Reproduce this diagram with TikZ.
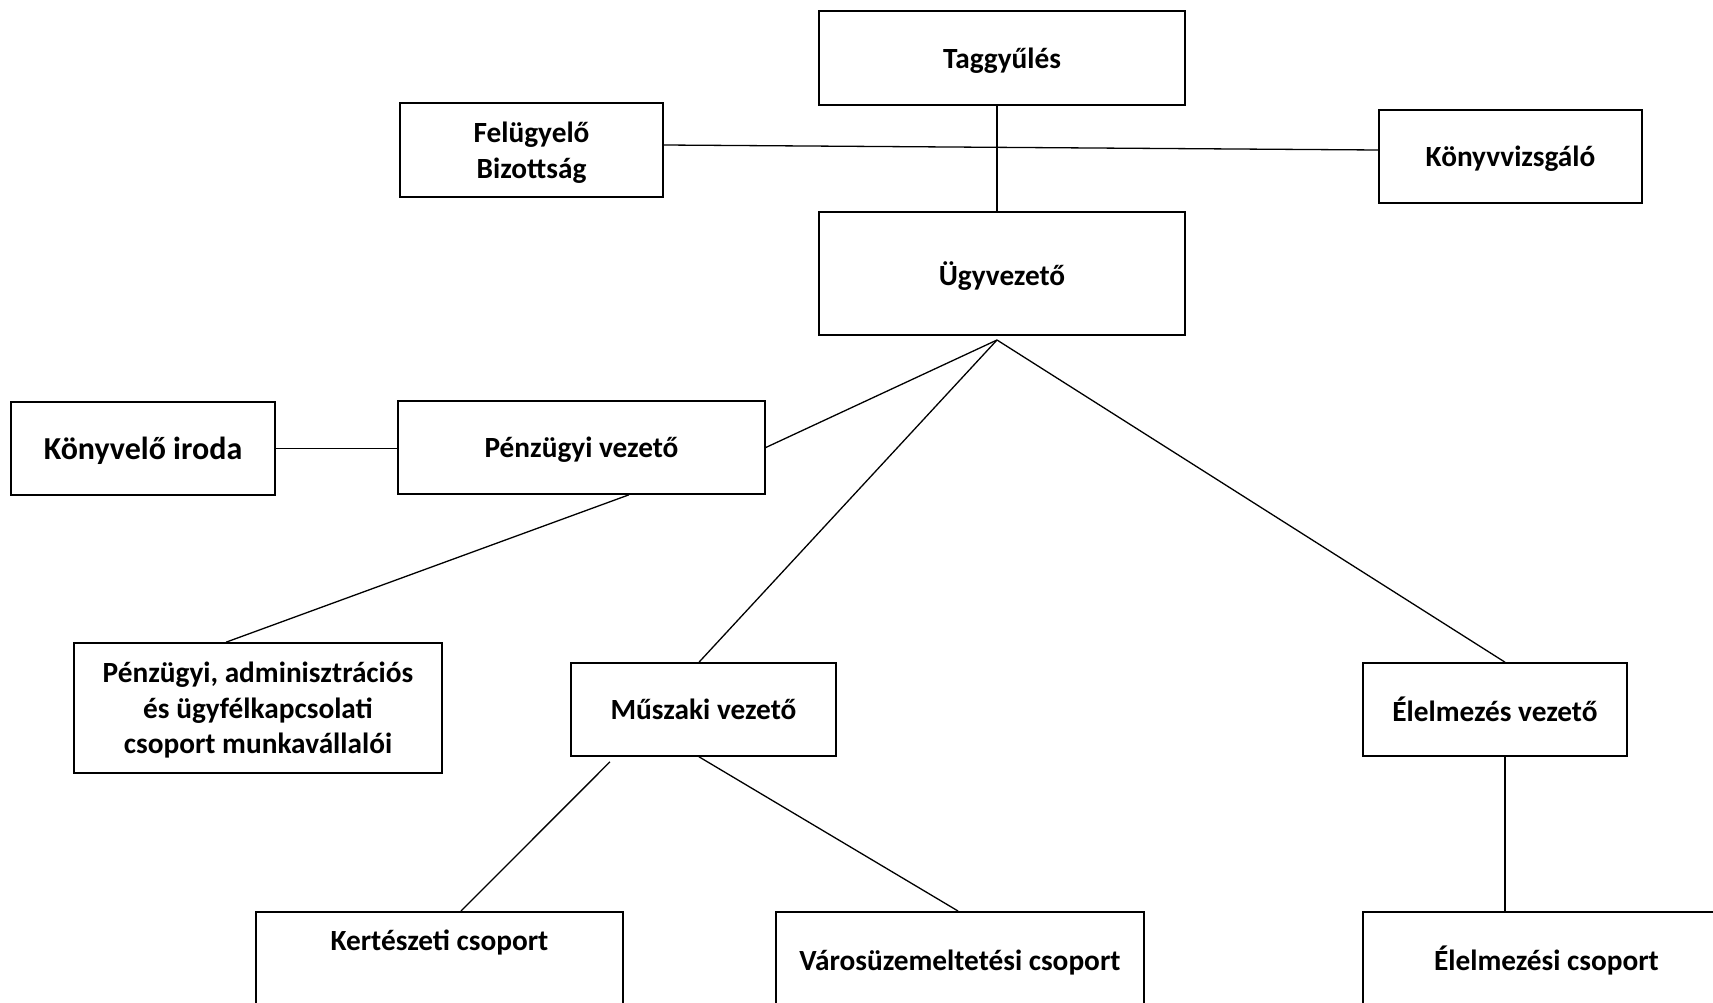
\documentclass[tikz,border=0pt]{standalone}
\usepackage{fontspec}
\setmainfont{Carlito}
\usetikzlibrary{calc}
\begin{document}
\begin{tikzpicture}[x=1pt,y=-1pt,
  box/.style={draw=black, line width=1.6pt, rectangle, inner sep=0pt, align=center, text depth=0pt,
    font=\fontsize{29.3}{35.5}\selectfont\bfseries},
  conn/.style={draw=black, line width=1.3pt}]
\useasboundingbox[fill=white] (0,0) rectangle (1713,1003);
\node[box, minimum width=366pt, minimum height=94pt] (tag) at (1002,58) {Taggyűlés};
\node[box, minimum width=263pt, minimum height=94pt] (fel) at (531.5,150) {Felügyelő\\Bizottság};
\node[box, minimum width=263pt, minimum height=93pt] (konyv) at (1510.5,156.5) {Könyvvizsgáló};
\node[box, minimum width=366pt, minimum height=123pt] (ugy) at (1002,273.5) {Ügyvezető};
\node[box, minimum width=264pt, minimum height=93pt, font=\fontsize{32}{38}\selectfont\bfseries] (kiroda) at (143,448.5) {Könyvelő iroda};
\node[box, minimum width=367pt, minimum height=93pt] (penz) at (581.5,447.5) {Pénzügyi vezető};
\node[box, minimum width=368pt, minimum height=130pt] (padm) at (258,708) {Pénzügyi, adminisztrációs\\és ügyfélkapcsolati\\csoport munkavállalói};
\node[box, minimum width=265pt, minimum height=93pt] (musz) at (703.5,709.5) {Műszaki vezető};
\node[box, minimum width=264pt, minimum height=93pt] (elv) at (1495,709.5) {Élelmezés vezető};
\node[box, anchor=north, minimum width=367pt, text height=39pt, text depth=100pt] (kert) at (439.5,911) {Kertészeti csoport};
\node[box, anchor=north, minimum width=368pt, text height=59pt, text depth=80pt] (varos) at (960,911) {Városüzemeltetési csoport};
\node[box, anchor=north, minimum width=367pt, text height=59pt, text depth=80pt] (elcs) at (1546.5,911) {Élelmezési csoport};
\coordinate (fan) at (997,340);
\draw[conn] ([xshift=-5pt]tag.south) -- ([xshift=-5pt]ugy.north);
\draw[conn] ([yshift=5pt]fel.east) -- ([yshift=6.5pt]konyv.west);
\draw[conn] (fan) -- (penz.east);
\draw[conn] (fan) -- ([xshift=-4.5pt]musz.north);
\draw[conn] (fan) -- ([xshift=10pt]elv.north);
\draw[conn] (kiroda.east) -- (kiroda.east -| penz.west);
\draw[conn] ([xshift=47.5pt]penz.south) -- ([xshift=-32pt]padm.north);
\draw[conn] ([xshift=-93.5pt,yshift=-5pt]musz.south) -- ([xshift=21.5pt]kert.north);
\draw[conn] ([xshift=-4.5pt]musz.south) -- ([xshift=-2pt]varos.north);
\draw[conn] ([xshift=10pt]elv.south) -- ([xshift=10pt]elv.south |- elcs.north);
\end{tikzpicture}
\end{document}
